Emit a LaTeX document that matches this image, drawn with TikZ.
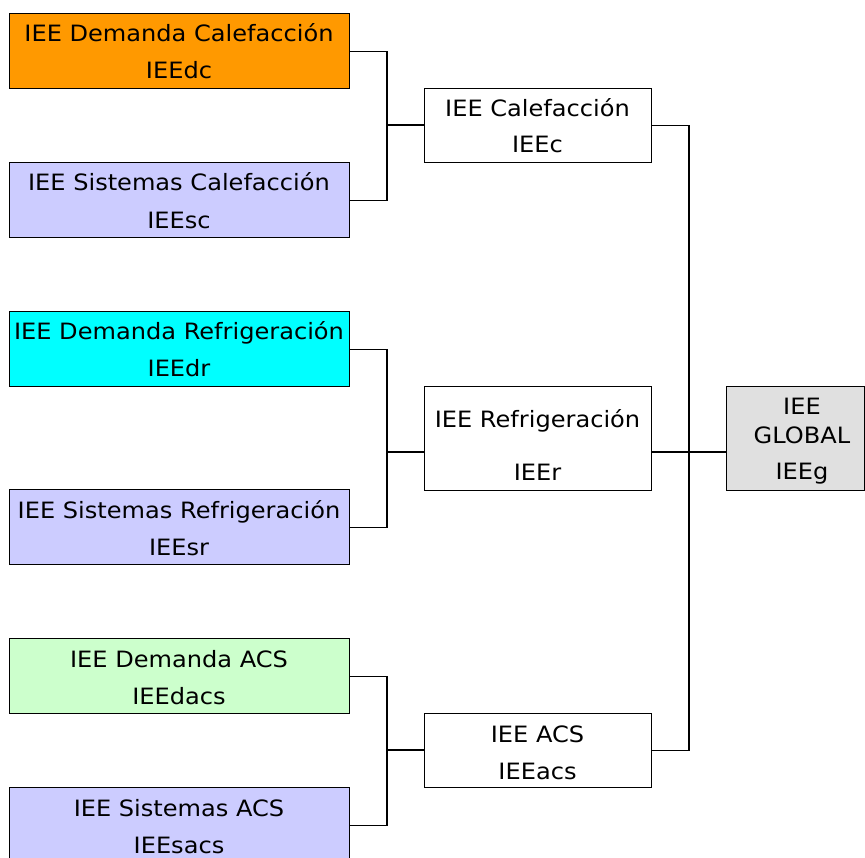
\documentclass[tikz,border=0pt]{standalone}
\usepackage{fontspec}
\newfontfamily\vfont[FakeStretch=1.07]{DejaVu Sans}
\definecolor{corange}{HTML}{FF9900}
\definecolor{clav}{HTML}{CCCCFF}
\definecolor{ccyan}{HTML}{00FFFF}
\definecolor{cgreen}{HTML}{CCFFCC}
\definecolor{cgray}{HTML}{E0E0E0}
\tikzset{
  box/.style={draw=black, line width=1.4pt, anchor=north west, inner sep=0pt, fill=white},
  leftbox/.style={box, minimum width=340pt, minimum height=75pt},
  midbox/.style={box, minimum width=227pt},
  lbl/.style={anchor=base, inner sep=0pt, font=\vfont\fontsize{22.5}{26}\selectfont},
  conn/.style={draw=black, line width=1.3pt}
}
\begin{document}
\begin{tikzpicture}[x=1pt,y=-1pt]
\useasboundingbox (0,0) rectangle (865,858);
% left boxes
\node[leftbox, fill=corange] (dc) at (9,13) {};
\node[leftbox, fill=clav] (sc) at (9,162) {};
\node[leftbox, fill=ccyan] (dr) at (9,311) {};
\node[leftbox, fill=clav] (sr) at (9,489) {};
\node[leftbox, fill=cgreen] (dacs) at (9,638) {};
\node[leftbox, fill=clav] (sacs) at (9,787) {};
% middle boxes
\node[midbox, minimum height=74pt] (c) at (424,88) {};
\node[midbox, minimum height=104pt] (r) at (424,386) {};
\node[midbox, minimum height=74pt] (acs) at (424,713) {};
% global
\node[box, fill=cgray, minimum width=138pt, minimum height=104pt] (g) at (726,386) {};
% junctions
\coordinate (j1) at (387,125);
\coordinate (j2) at (387,452);
\coordinate (j3) at (387,750);
\coordinate (j4) at (689,452);
% connectors
\draw[conn] (dc.east) -| (j1) |- (sc.east);
\draw[conn] (j1) -- (j1 -| c.west);
\draw[conn] (dr.east) -| (j2) |- (sr.east);
\draw[conn] (j2) -- (j2 -| r.west);
\draw[conn] (dacs.east) -| (j3) |- (sacs.east);
\draw[conn] (j3) -- (j3 -| acs.west);
\draw[conn] (c.east) -| (j4) |- (acs.east);
\draw[conn] (j4 -| r.east) -- (j4 -| g.west);
% labels
\node[lbl] (t1a) at (179,42) {IEE Demanda Calefacción};
\node[lbl] (t1b) at (179,79) {IEEdc};
\node[lbl] (t2a) at (179,191) {IEE Sistemas Calefacción};
\node[lbl] (t2b) at (179,229) {IEEsc};
\node[lbl] (t3a) at (179,340) {IEE Demanda Refrigeración};
\node[lbl] (t3b) at (179,377) {IEEdr};
\node[lbl] (t4a) at (179,518) {IEE Sistemas Refrigeración};
\node[lbl] (t4b) at (179,555) {IEEsr};
\node[lbl] (t5a) at (179,667) {IEE Demanda ACS};
\node[lbl] (t5b) at (179,704) {IEEdacs};
\node[lbl] (t6a) at (179,816) {IEE Sistemas ACS};
\node[lbl] (t6b) at (179,853) {IEEsacs};
\node[lbl] (tca) at (537.5,117) {IEE Calefacción};
\node[lbl] (tcb) at (537.5,153) {IEEc};
\node[lbl] (tra) at (537.5,428) {IEE Refrigeración};
\node[lbl] (trb) at (537.5,480) {IEEr};
\node[lbl] (taa) at (537.5,742) {IEE ACS};
\node[lbl] (tab) at (537.5,779) {IEEacs};
\node[lbl] (tga) at (802,415) {IEE};
\node[lbl] (tgb) at (802,444) {GLOBAL};
\node[lbl] (tgc) at (802,479) {IEEg};
\end{tikzpicture}
\end{document}
